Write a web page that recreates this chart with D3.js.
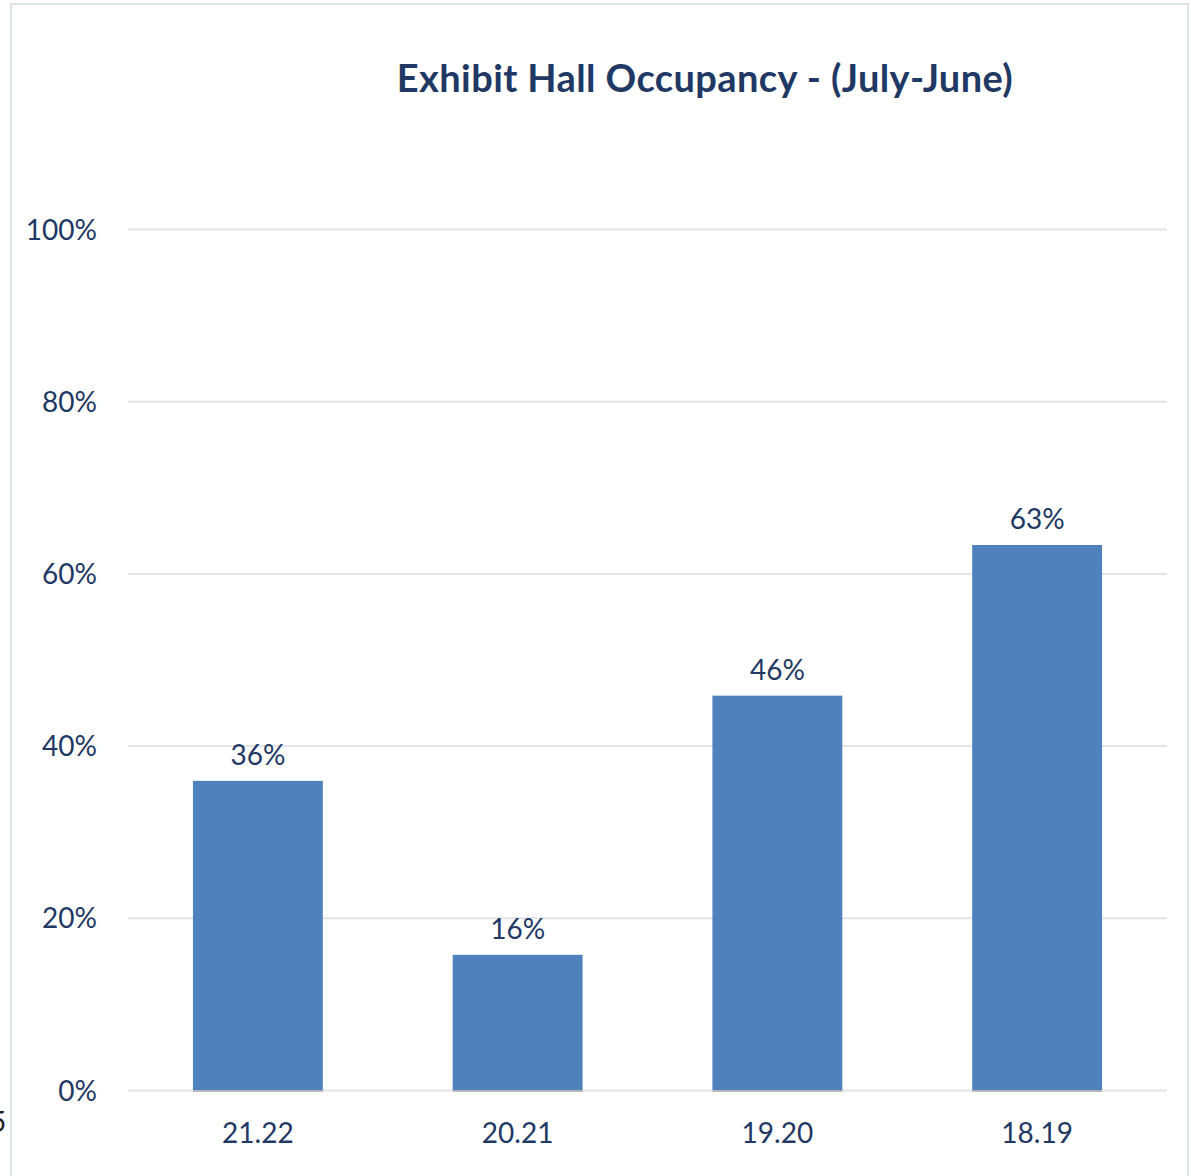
<!DOCTYPE html>
<html>
<head>
<meta charset="utf-8">
<script src="https://cdn.jsdelivr.net/npm/d3@7"></script>
<style>
  body { margin: 0; background: #fff; }
  text { font-family: Lato, "Open Sans", sans-serif; fill: #1f3864; }
  .title { font-weight: bold; font-size: 38px; letter-spacing: 0.4px; }
  .tick-label { font-size: 28px; }
  .bar-label { font-size: 28px; }
</style>
</head>
<body>
<svg width="1191" height="1176"></svg>
<script>
const categories = ['21.22', '20.21', '19.20', '18.19'];
const occupancy = [0.359, 0.157, 0.458, 0.633];
const yTicks = [0, 0.2, 0.4, 0.6, 0.8, 1.0];

const svg = d3.select('svg');

const margin = { top: 229, right: 24, bottom: 86, left: 128 };
const width = +svg.attr('width');
const height = +svg.attr('height');
const innerWidth = width - margin.left - margin.right;
const innerHeight = height - margin.top - margin.bottom;

// chart frame
svg.append('rect')
    .attr('x', 11)
    .attr('y', 4)
    .attr('width', 1177)
    .attr('height', 1190)
    .attr('fill', 'none')
    .attr('stroke', '#dde2ea')
    .attr('stroke-width', 2);

// stray cut-off digit at the left edge
svg.append('text')
    .attr('x', -10)
    .attr('y', 1132)
    .style('fill', '#222')
    .style('font-size', '28px')
    .text('5');

const data = categories.map((c, i) => ({ cat: c, value: occupancy[i] }));

const xScale = d3.scaleBand()
    .domain(categories)
    .range([0, innerWidth])
    .paddingInner(0.5)
    .paddingOuter(0.25);

const yScale = d3.scaleLinear()
    .domain([0, 1])
    .range([innerHeight, 0]);

const g = svg.append('g')
    .attr('transform', `translate(${margin.left}, ${margin.top})`);

const yAxis = d3.axisLeft(yScale)
    .tickValues(yTicks)
    .tickFormat(d3.format('.0%'))
    .tickSize(-innerWidth)
    .tickPadding(31);

const yAxisG = g.append('g').call(yAxis);
yAxisG.select('.domain').remove();
yAxisG.selectAll('.tick line')
    .attr('stroke', '#e1e4ea')
    .attr('stroke-width', 2);
yAxisG.selectAll('.tick text')
    .attr('class', 'tick-label')
    .attr('font-family', null)
    .attr('font-size', null)
    .attr('dy', '0.36em');

const xAxis = d3.axisBottom(xScale)
    .tickSize(0)
    .tickPadding(33);

const xAxisG = g.append('g')
    .attr('transform', `translate(0, ${innerHeight})`)
    .call(xAxis);
xAxisG.select('.domain').remove();
xAxisG.selectAll('.tick text')
    .attr('class', 'tick-label')
    .attr('font-family', null)
    .attr('font-size', null);

g.selectAll('.bar')
    .data(data)
    .enter().append('rect')
    .attr('class', 'bar')
    .attr('x', d => xScale(d.cat))
    .attr('y', d => yScale(d.value))
    .attr('width', xScale.bandwidth())
    .attr('height', d => innerHeight - yScale(d.value))
    .attr('fill', '#4f81bd');

// darker baseline under each bar
g.selectAll('.bar-base')
    .data(data)
    .enter().append('line')
    .attr('x1', d => xScale(d.cat))
    .attr('x2', d => xScale(d.cat) + xScale.bandwidth())
    .attr('y1', innerHeight + 1)
    .attr('y2', innerHeight + 1)
    .attr('stroke', '#a6a6a6')
    .attr('stroke-width', 1.5);

g.selectAll('.bar-label')
    .data(data)
    .enter().append('text')
    .attr('class', 'bar-label')
    .attr('text-anchor', 'middle')
    .attr('x', d => xScale(d.cat) + xScale.bandwidth() / 2)
    .attr('y', d => yScale(d.value) - 16)
    .text(d => d3.format('.0%')(d.value));

svg.append('text')
    .attr('class', 'title')
    .attr('text-anchor', 'middle')
    .attr('x', 705)
    .attr('y', 92)
    .text('Exhibit Hall Occupancy - (July-June)');
</script>
</body>
</html>
